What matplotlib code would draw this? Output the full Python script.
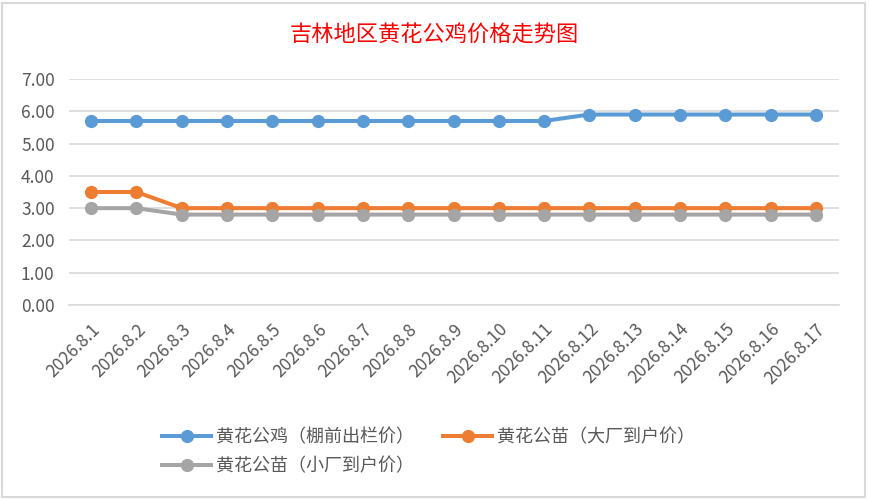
import matplotlib
matplotlib.use("Agg")
import matplotlib.pyplot as plt
from matplotlib.patches import Rectangle

plt.rcParams['font.family'] = ['Noto Sans CJK SC', 'DejaVu Sans']

# 数据
dates = ["2026.8.%d" % d for d in range(1, 18)]
chicken = [5.7] * 11 + [5.9] * 6
chick_big = [3.5, 3.5] + [3.0] * 15
chick_small = [3.0, 3.0] + [2.8] * 15
names = ["黄花公鸡（棚前出栏价）", "黄花公苗（大厂到户价）", "黄花公苗（小厂到户价）"]
colors = ["#5B9BD5", "#ED7D31", "#A5A5A5"]
yticks = [0, 1, 2, 3, 4, 5, 6, 7]

fig = plt.figure(figsize=(8.69, 5.0), dpi=100)
ax = fig.add_axes([68.5 / 869, 1 - 305 / 500, (838.5 - 68.5) / 869, (305 - 79) / 500])

x = list(range(len(dates)))
lines = []
for ys, name, c in zip([chicken, chick_big, chick_small], names, colors):
    ln, = ax.plot(x, ys, color=c, lw=2.9, marker="o", ms=8.5, label=name, zorder=3)
    lines.append(ln)

ax.set_xlim(-0.5, len(dates) - 0.5)
ax.set_ylim(0, 7)
ax.set_yticks(yticks)
ax.set_yticklabels(["%.2f" % v for v in yticks])
ax.set_xticks(x)
ax.set_xticklabels(dates, rotation=45, ha="right", rotation_mode="anchor")
ax.grid(axis="y", color="#D9D9D9", lw=1.2)
ax.set_axisbelow(True)
for s in ax.spines.values():
    s.set_visible(False)
ax.spines["bottom"].set_visible(True)
ax.spines["bottom"].set_color("#D9D9D9")
ax.spines["bottom"].set_linewidth(1.2)
ax.tick_params(length=0, colors="#595959", labelsize=12.5)
ax.tick_params(axis="y", pad=10)
ax.tick_params(axis="x", pad=11)

fig.text(0.5, 1 - 35 / 500, "吉林地区黄花公鸡价格走势图", color="red", fontsize=16,
         ha="center", va="center")

# 图例：第一行两项，第二行一项
order = [lines[0], lines[2], lines[1]]
leg = fig.legend(order, [l.get_label() for l in order], loc="upper left",
                 bbox_to_anchor=(146 / 869, 1 - 412 / 500), ncol=2,
                 frameon=False, fontsize=13, handlelength=2.7, columnspacing=1.6,
                 handletextpad=0.3, labelspacing=0.6)
for t in leg.get_texts():
    t.set_color("#595959")

# 图表边框
fig.add_artist(Rectangle((2 / 869, 3 / 500), 863 / 869, 494 / 500, transform=fig.transFigure,
                         fill=False, ec="#D9D9D9", lw=1.5))

fig.savefig("out.png", dpi=100)
